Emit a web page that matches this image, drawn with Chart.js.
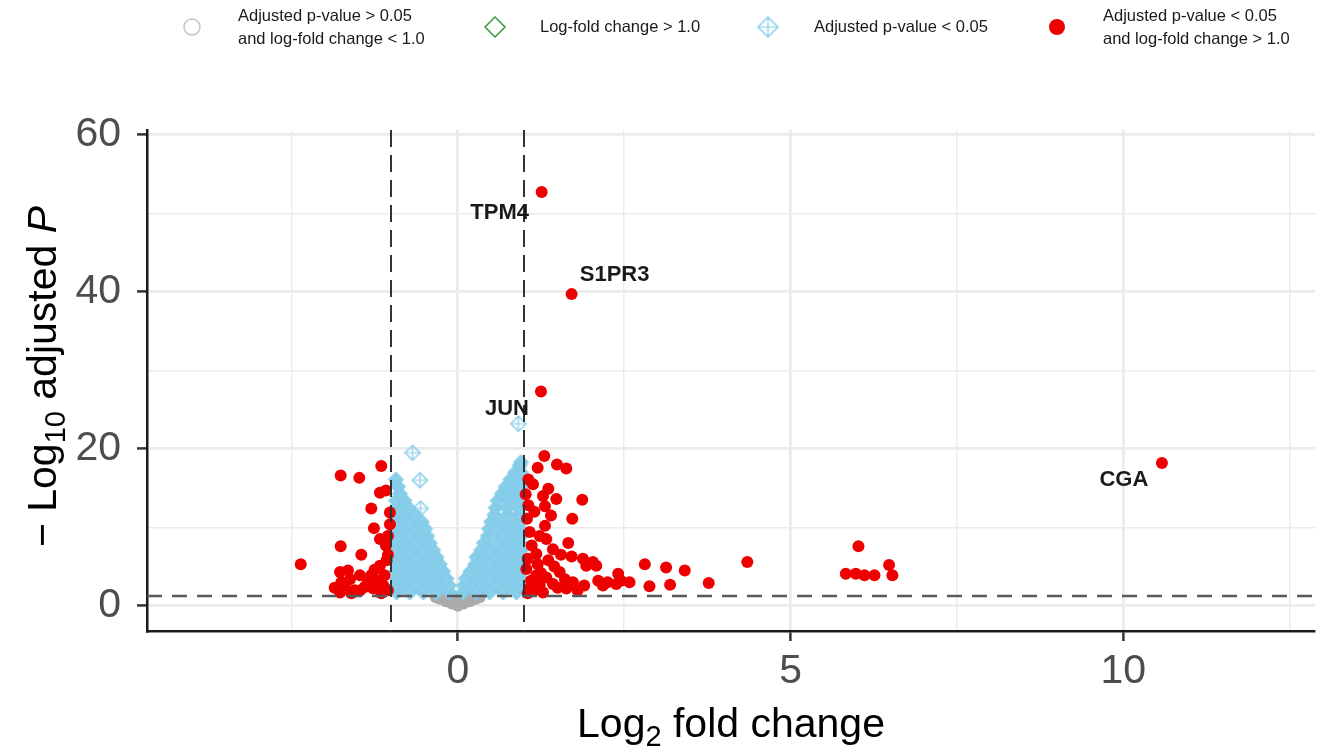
<!DOCTYPE html>
<html>
<head>
<meta charset="utf-8">
<script src="https://cdn.jsdelivr.net/npm/chart.js@4.4.1/dist/chart.umd.min.js"></script>
<style>html,body{margin:0;padding:0;background:#fff;}canvas{display:block;}</style>
</head>
<body>
<canvas id="c" width="1323" height="753"></canvas>
<script>
// ================= DATA =================
// Significant & |log2FC| > 1 (red)
const redX = [1.30,1.20,1.49,1.63,1.06,1.13,1.36,1.28,1.48,1.87,1.06,1.31,1.72,1.04,1.31,1.08,1.23,1.33,1.66,1.11,1.43,1.18,1.71,1.36,1.88,2.03,1.93,2.08,1.03,1.18,1.33,1.53,1.61,1.73,1.23,1.43,1.08,1.28,2.11,2.18,2.41,2.38,2.58,2.45,2.81,2.88,3.13,3.19,3.41,3.77,4.35,6.02,5.83,5.98,6.11,6.26,6.48,6.53,1.63,
  1.05,1.15,1.50,1.80,1.90,1.20,1.45,1.55,1.05,1.10,1.25,2.25,1.02,1.15,1.40,
  -1.15,-1.76,-1.48,-1.17,-1.08,-1.30,-1.26,-1.02,-1.17,-1.76,-1.45,-1.08,-2.36,-1.77,-1.65,-1.75,-1.47,-1.30,-1.17,-1.07,-1.47,-1.27,-1.12,-1.77,-1.10,-1.20,-1.62,-1.05,-1.02,
  -1.05,-1.40,-1.55,-1.85,-1.70,-1.25,-1.05,-1.35,-1.60,-1.15];
const redY = [19.1,17.6,18.0,17.5,16.1,15.5,14.9,14.0,13.6,13.5,12.8,12.7,11.1,11.1,10.2,9.4,8.9,8.5,8.0,7.7,7.2,6.6,6.3,5.8,6.0,5.6,5.1,5.1,4.7,3.9,3.6,4.3,3.4,3.0,2.6,2.8,2.2,1.7,3.2,2.6,4.1,2.8,3.0,3.2,5.3,2.5,4.9,2.7,4.5,2.9,5.6,7.6,4.1,4.1,3.9,3.9,5.2,3.9,2.2,
  1.6,2.0,2.3,2.0,2.6,5.3,5.0,6.5,6.0,3.2,4.2,3.0,14.2,12.0,11.5,
  17.8,16.6,16.3,14.4,14.7,12.4,9.9,10.4,8.5,7.6,6.5,7.7,5.3,4.3,4.5,3.0,3.9,3.9,5.1,5.8,1.95,2.2,2.6,1.7,3.9,3.2,3.4,8.9,11.9,
  2.0,2.4,2.0,2.3,2.6,4.6,6.5,3.0,1.6,1.6];

// Labelled genes (also significant, red)
const geneNames = ['TPM4', 'S1PR3', 'JUN', 'CGA'];
const geneX = [1.26, 1.71, 1.25, 10.58];
const geneY = [52.7, 39.7, 27.3, 18.2];

// Adjusted p < 0.05 only (blue) – dense cloud
const blueX = [
  -0.92,-0.72,-0.52,-0.32,-0.12,0.08,0.28,0.48,0.68,0.88,
  -0.93,-0.82,-0.62,-0.42,-0.22,-0.13,0.09,0.18,0.38,0.58,0.78,0.93,
  -0.92,-0.72,-0.52,-0.32,-0.17,0.12,0.28,0.48,0.68,0.88,0.95,
  -0.93,-0.82,-0.62,-0.42,-0.22,0.19,0.38,0.58,0.78,0.93,
  -0.92,-0.72,-0.52,-0.32,-0.27,0.26,0.48,0.68,0.88,0.95,
  -0.93,-0.82,-0.62,-0.42,-0.32,0.28,0.38,0.58,0.78,0.93,
  -0.92,-0.72,-0.52,-0.37,0.35,0.48,0.68,0.88,0.95,
  -0.93,-0.82,-0.62,-0.42,0.39,0.58,0.78,0.93,
  -0.92,-0.72,-0.52,-0.46,0.45,0.68,0.88,0.95,
  -0.93,-0.82,-0.62,-0.49,0.47,0.58,0.78,0.93,
  -0.92,-0.72,-0.54,0.50,0.68,0.88,0.95,
  -0.93,-0.80,-0.64,0.55,0.75,0.93,
  -0.92,-0.74,0.57,0.74,0.90,
  -0.93,-0.80,0.60,0.78,0.93,
  -0.87,0.66,0.80,0.93,
  -0.90,0.72,0.84,0.94,
  -0.93,0.79,0.92,
  0.86,0.95,
  0.93,
  0.95];
const blueY = [
  1.7,1.7,1.7,1.7,1.7,1.7,1.7,1.7,1.7,1.7,
  2.6,2.6,2.6,2.6,2.6,2.6,2.6,2.6,2.6,2.6,2.6,2.6,
  3.5,3.5,3.5,3.5,3.5,3.5,3.5,3.5,3.5,3.5,3.5,
  4.4,4.4,4.4,4.4,4.4,4.4,4.4,4.4,4.4,4.4,
  5.3,5.3,5.3,5.3,5.3,5.3,5.3,5.3,5.3,5.3,
  6.2,6.2,6.2,6.2,6.2,6.2,6.2,6.2,6.2,6.2,
  7.1,7.1,7.1,7.1,7.1,7.1,7.1,7.1,7.1,
  8.0,8.0,8.0,8.0,8.0,8.0,8.0,8.0,
  8.9,8.9,8.9,8.9,8.9,8.9,8.9,8.9,
  9.8,9.8,9.8,9.8,9.8,9.8,9.8,9.8,
  10.7,10.7,10.7,10.7,10.7,10.7,10.7,
  11.6,11.6,11.6,11.6,11.6,11.6,
  12.5,12.5,12.5,12.5,12.5,
  13.4,13.4,13.4,13.4,13.4,
  14.3,14.3,14.3,14.3,
  15.2,15.2,15.2,15.2,
  16.1,16.1,16.1,
  17.0,17.0,
  17.9,
  18.3];
// Isolated blue points
const blueOutX = [-0.68, -0.57, -0.56, 0.91];
const blueOutY = [19.5, 16.0, 12.4, 23.2];

// Not significant (grey)
const greyX = [0, -0.09, 0.09, -0.18, 0, 0.18, -0.27, -0.09, 0.09, 0.27, -0.33, -0.18, 0, 0.18, 0.33, -0.25, 0.25];
const greyY = [0, 0.3, 0.3, 0.6, 0.6, 0.6, 0.9, 0.9, 0.9, 0.9, 1.1, 1.1, 1.1, 1.1, 1.1, 1.25, 1.25];

// |log2FC| > 1 only (green) – none in this data
const greenX = [];
const greenY = [];

// Thresholds
const fcCutoff = 1.0;
const pCutoff = 1.30103; // -log10(0.05)

// Axis ticks
const xTickLabels = [0, 5, 10];
const yTickLabels = [0, 20, 40, 60];

// Legend texts
const legendTexts = [
  ['Adjusted p-value > 0.05', 'and log-fold change < 1.0'],
  ['Log-fold change > 1.0'],
  ['Adjusted p-value < 0.05'],
  ['Adjusted p-value < 0.05', 'and log-fold change > 1.0']
];

// ================= STYLE =================
const FONT = "'Liberation Sans', Arial, sans-serif";
const RED = '#ee0000', BLUE = '#87ceeb', GREY = '#ababab', GREEN = '#3a9a3a';

function diamondImage(r, fill, stroke, lw, cross) {
  const s = Math.ceil(2 * r + 2 * lw + 2);
  const c = document.createElement('canvas');
  c.width = s; c.height = s;
  const g = c.getContext('2d');
  const m = s / 2;
  g.beginPath();
  g.moveTo(m - r, m); g.lineTo(m, m - r); g.lineTo(m + r, m); g.lineTo(m, m + r); g.closePath();
  if (fill) { g.fillStyle = fill; g.fill(); }
  g.strokeStyle = stroke; g.lineWidth = lw; g.stroke();
  if (cross) {
    g.beginPath();
    g.moveTo(m - r, m); g.lineTo(m + r, m);
    g.moveTo(m, m - r); g.lineTo(m, m + r);
    g.strokeStyle = cross; g.lineWidth = lw * 0.8; g.stroke();
  }
  return c;
}
const blueCloudImg = diamondImage(7.5, BLUE, '#80c8e6', 1, null);
const blueHollowImg = diamondImage(7.5, null, BLUE, 1.5, BLUE);

const zip = (xs, ys) => xs.map((v, i) => ({x: v, y: ys[i]}));

const labelOffsets = [[-42, 21], [43, -19], [-34, 17], [-38, 17]];

const extras = {
  id: 'volcanoExtras',
  afterDatasetsDraw(chart) {
    const {ctx, chartArea: a, scales: {x, y}} = chart;
    ctx.save();
    ctx.strokeStyle = '#333';
    ctx.lineWidth = 2;
    ctx.setLineDash([17, 8]);
    [-fcCutoff, fcCutoff].forEach(v => {
      const px = Math.round(x.getPixelForValue(v));
      ctx.beginPath(); ctx.moveTo(px, a.top); ctx.lineTo(px, a.bottom); ctx.stroke();
    });
    ctx.strokeStyle = '#595959';
    ctx.lineWidth = 2.5;
    ctx.setLineDash([15, 10]);
    const py = Math.round(y.getPixelForValue(pCutoff));
    ctx.beginPath(); ctx.moveTo(a.left, py); ctx.lineTo(a.right, py); ctx.stroke();
    ctx.setLineDash([]);
    ctx.font = 'bold 22px ' + FONT;
    ctx.fillStyle = '#1a1a1a';
    ctx.textAlign = 'center';
    ctx.textBaseline = 'middle';
    geneNames.forEach((g, i) => {
      const px = x.getPixelForValue(geneX[i]) + labelOffsets[i][0];
      const py2 = y.getPixelForValue(geneY[i]) + labelOffsets[i][1];
      ctx.fillText(g, px, py2);
    });
    ctx.restore();
  },
  afterDraw(chart) {
    const {ctx, chartArea: a} = chart;
    ctx.save();
    ctx.fillStyle = '#000';
    ctx.textBaseline = 'alphabetic';
    ctx.textAlign = 'left';
    const big = '41px ' + FONT, small = '29px ' + FONT;
    ctx.font = big; const w1 = ctx.measureText('Log').width;
    ctx.font = small; const w2 = ctx.measureText('2').width;
    ctx.font = big; const w3 = ctx.measureText(' fold change').width;
    let sx = (a.left + a.right) / 2 - (w1 + w2 + w3) / 2;
    const by = 737;
    ctx.font = big; ctx.fillText('Log', sx, by);
    ctx.font = small; ctx.fillText('2', sx + w1, by + 9);
    ctx.font = big; ctx.fillText(' fold change', sx + w1 + w2, by);
    ctx.save();
    ctx.translate(56, (a.top + a.bottom) / 2 - 4);
    ctx.rotate(-Math.PI / 2);
    const pItal = 'italic 41px ' + FONT;
    ctx.font = big; const t1 = ctx.measureText('\u2212 Log').width;
    ctx.font = small; const t2 = ctx.measureText('10').width;
    ctx.font = big; const t3 = ctx.measureText(' adjusted ').width;
    ctx.font = pItal; const t4 = ctx.measureText('P').width;
    let ty = -(t1 + t2 + t3 + t4) / 2;
    ctx.font = big; ctx.fillText('\u2212 Log', ty, 0);
    ctx.font = small; ctx.fillText('10', ty + t1, 9);
    ctx.font = big; ctx.fillText(' adjusted ', ty + t1 + t2, 0);
    ctx.font = pItal; ctx.fillText('P', ty + t1 + t2 + t3, 0);
    ctx.restore();

    const legendIconX = [192, 495, 768, 1057];
    const legendTextX = [238, 540, 814, 1103];
    const ly = 27;
    ctx.font = '16.5px ' + FONT;
    ctx.fillStyle = '#1a1a1a';
    ctx.textBaseline = 'middle';
    legendTexts.forEach((lines, i) => {
      if (lines.length === 1) ctx.fillText(lines[0], legendTextX[i], ly);
      else { ctx.fillText(lines[0], legendTextX[i], ly - 11); ctx.fillText(lines[1], legendTextX[i], ly + 12); }
    });
    ctx.lineWidth = 1.5;
    ctx.strokeStyle = '#c4c4c4';
    ctx.beginPath(); ctx.arc(legendIconX[0], ly, 8, 0, Math.PI * 2); ctx.stroke();
    ctx.strokeStyle = GREEN;
    ctx.beginPath();
    ctx.moveTo(legendIconX[1] - 10, ly); ctx.lineTo(legendIconX[1], ly - 10);
    ctx.lineTo(legendIconX[1] + 10, ly); ctx.lineTo(legendIconX[1], ly + 10); ctx.closePath(); ctx.stroke();
    ctx.drawImage(diamondImage(10, null, BLUE, 1.5, BLUE), legendIconX[2] - 12.5, ly - 12.5);
    ctx.fillStyle = RED;
    ctx.beginPath(); ctx.arc(legendIconX[3], ly, 8, 0, Math.PI * 2); ctx.fill();
    ctx.restore();
  }
};

new Chart(document.getElementById('c'), {
  type: 'scatter',
  data: {
    datasets: [
      { label: 'Adjusted p-value < 0.05 and log-fold change > 1.0', data: zip(redX.concat(geneX), redY.concat(geneY)),
        pointRadius: 6, backgroundColor: RED, borderColor: RED, borderWidth: 0, order: 0 },
      { label: 'Adjusted p-value < 0.05 (isolated)', data: zip(blueOutX, blueOutY),
        pointStyle: blueHollowImg, order: 1 },
      { label: 'Adjusted p-value < 0.05', data: zip(blueX, blueY),
        pointStyle: blueCloudImg, order: 2 },
      { label: 'Log-fold change > 1.0', data: zip(greenX, greenY),
        pointStyle: 'rectRot', pointRadius: 7, backgroundColor: 'transparent', borderColor: GREEN, order: 3 },
      { label: 'Adjusted p-value > 0.05 and log-fold change < 1.0', data: zip(greyX, greyY),
        pointRadius: 6, backgroundColor: GREY, borderColor: GREY, borderWidth: 0, order: 4 }
    ]
  },
  options: {
    responsive: false,
    animation: false,
    devicePixelRatio: 1,
    layout: { padding: { top: 130, right: 8, left: 0, bottom: 0 } },
    plugins: { legend: { display: false }, tooltip: { enabled: false } },
    scales: {
      x: {
        type: 'linear', min: -4.67, max: 12.88,
        afterFit: s => { s.height = 122; },
        border: { display: true, color: '#1a1a1a', width: 2.5 },
        grid: {
          color: '#ebebeb',
          lineWidth: c => (c.tick && c.tick.value % 5 === 0) ? 2.8 : 1.4,
          tickColor: c => (c.tick && xTickLabels.includes(c.tick.value)) ? '#333333' : 'rgba(0,0,0,0)',
          tickLength: 10, tickWidth: 2.5
        },
        ticks: {
          stepSize: 2.5, includeBounds: false, autoSkip: false, maxRotation: 0,
          padding: 6, color: '#4d4d4d', font: { family: FONT, size: 41 },
          callback: v => xTickLabels.includes(v) ? String(v) : ''
        }
      },
      y: {
        type: 'linear', min: -3.2, max: 60.6,
        afterFit: s => { s.width = 147; },
        border: { display: true, color: '#1a1a1a', width: 2.5 },
        grid: {
          color: '#ebebeb',
          lineWidth: c => (c.tick && c.tick.value % 20 === 0) ? 2.8 : 1.4,
          tickColor: c => (c.tick && yTickLabels.includes(c.tick.value)) ? '#333333' : 'rgba(0,0,0,0)',
          tickLength: 10, tickWidth: 2.5
        },
        ticks: {
          stepSize: 10, includeBounds: false, autoSkip: false,
          padding: 16, color: '#4d4d4d', font: { family: FONT, size: 41 },
          callback: v => yTickLabels.includes(v) ? String(v) : ''
        }
      }
    }
  },
  plugins: [extras]
});
</script>
</body>
</html>
